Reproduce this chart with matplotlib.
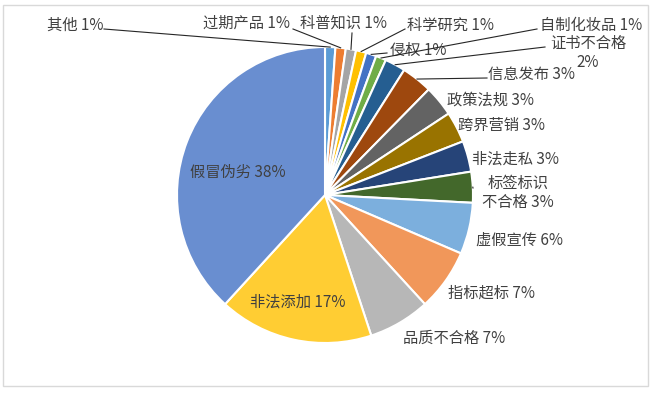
import numpy as np
import matplotlib
matplotlib.use("Agg")
import matplotlib.pyplot as plt
from matplotlib.patches import Rectangle

plt.rcParams['font.family'] = ['Noto Sans CJK SC', 'DejaVu Sans']

# clockwise from 12 o'clock
CATEGORIES = ["其他", "过期产品", "科普知识", "科学研究", "侵权", "自制化妆品",
              "证书不合格", "信息发布", "政策法规", "跨界营销", "非法走私",
              "标签标识不合格", "虚假宣传", "指标超标", "品质不合格", "非法添加",
              "假冒伪劣"]
COUNTS = [2, 2, 2, 2, 2, 2, 4, 6, 6, 6, 6, 6, 10, 12, 12, 30, 68]
COLORS = ["#5B9BD5", "#ED7D31", "#A5A5A5", "#FFC000", "#4472C4", "#70AD47",
          "#255E91", "#9E480E", "#636363", "#997300", "#264478", "#43682B",
          "#7CAFDD", "#F1975A", "#B7B7B7", "#FFCD33", "#698ED0"]

# label text: how the name is broken, and where it sits (pixels, left/centre)
LABEL_TEXT = {"证书不合格": "证书不合格\n{p}%", "标签标识不合格": "标签标识\n不合格 {p}%"}
LABEL_POS = [(47, 25, "left"), (203, 23, "left"), (300, 23, "left"),
             (407, 25, "left"), (390, 50, "left"), (540, 25, "left"),
             (588, 53, "center"), (488, 74, "left"), (447, 100, "left"),
             (458, 125, "left"), (472, 159, "left"), (518, 193, "center"),
             (476, 240, "left"), (448, 293, "left"), (403, 338, "left"),
             (250, 302, "left"), (190, 172, "left")]
# where the leader line leaves the label (pixels); None = no leader
LEADER_FROM = [(104, 29), (293, 29), (352, 33), (405, 29), (387, 53),
               (537, 29), (545, 47), (487, 78), None, None, None,
               (473, 188), None, None, None, None, None]

W, H = 654, 395
CX, CY, R = 325, 195, 148
TXT = "#404040"


def px(x, y):
    return (x - CX) / R, (CY - y) / R


fig = plt.figure(figsize=(W / 100, H / 100), dpi=100)
ax = fig.add_axes([0, 0, 1, 1])

wedges, _ = ax.pie(COUNTS, colors=COLORS, startangle=90, counterclock=False,
                   radius=1.0, wedgeprops=dict(edgecolor="white", linewidth=1.5))

total = sum(COUNTS)
for i, (name, w) in enumerate(zip(CATEGORIES, wedges)):
    p = round(100 * COUNTS[i] / total)
    text = LABEL_TEXT.get(name, "{n} {p}%").format(n=name, p=p)
    lx, ly, ha = LABEL_POS[i]
    x, y = px(lx, ly)
    ax.text(x, y, text, ha=ha, va="center", fontsize=11, color=TXT,
            linespacing=1.2, multialignment="center")
    if LEADER_FROM[i] is not None:
        mid = np.deg2rad((w.theta1 + w.theta2) / 2)
        ex, ey = np.cos(mid) * 1.0, np.sin(mid) * 1.0
        sx, sy = px(*LEADER_FROM[i])
        ax.plot([sx, ex], [sy, ey], color="#262626", lw=0.8, zorder=5)

ax.set_xlim(-CX / R, (W - CX) / R)
ax.set_ylim(-(H - CY) / R, CY / R)
ax.set_aspect("equal")
ax.axis("off")

# chart area border
x0, y0 = px(3, 386)
x1, y1 = px(648, 5)
ax.add_patch(Rectangle((x0, y0), x1 - x0, y1 - y0, fill=False,
                       edgecolor="#D9D9D9", lw=1.0, clip_on=False))

fig.savefig("out.png", dpi=100, facecolor="white")
